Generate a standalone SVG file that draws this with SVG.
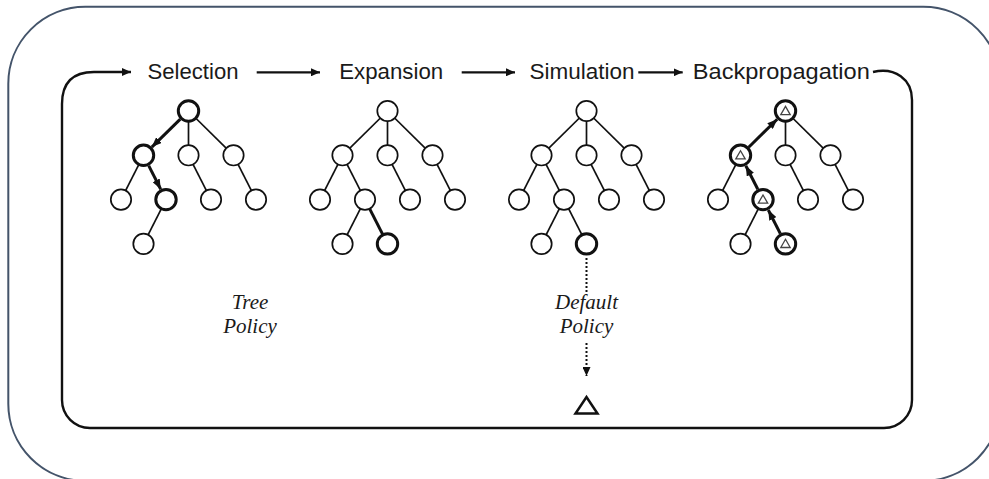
<svg xmlns="http://www.w3.org/2000/svg" width="989" height="479" viewBox="0 0 989 479">
  <style>
    .frame { fill: none; stroke: #44546A; stroke-width: 2; }
    .cycle { fill: none; stroke: #111; stroke-width: 2.4; }
    .flow { fill: none; stroke: #111; stroke-width: 2.2; }
    .edge { stroke: #111; stroke-width: 1.7; fill: none; }
    .edge-bold { stroke: #111; stroke-width: 3; fill: none; }
    .dots { stroke: #111; stroke-width: 2; stroke-dasharray: 2 2; fill: none; }
    .node { fill: #fff; stroke: #111; stroke-width: 1.7; }
    .node-bold { fill: #fff; stroke: #111; stroke-width: 3; }
    .tri { fill: none; stroke: #444; stroke-width: 1.3; stroke-linejoin: miter; }
    .leaf { fill: #fff; stroke: #111; stroke-width: 2.5; stroke-linejoin: miter; }
    .step { font-family: "Liberation Sans", Arial, sans-serif; font-size: 22px; fill: #1a1a1a; text-anchor: middle; }
    .policy { font-family: "Liberation Serif", "Times New Roman", serif; font-style: italic; font-size: 21px; fill: #1a1a1a; text-anchor: middle; }
  </style>
  <defs>
    <marker id="head" viewBox="0 0 9 8" refX="9" refY="4" markerWidth="9" markerHeight="8" markerUnits="userSpaceOnUse" orient="auto">
      <path d="M0,0 L9,4 L0,8 z" fill="#111"/>
    </marker>
    <marker id="head-tree" viewBox="0 0 10 8" refX="10" refY="4" markerWidth="10" markerHeight="8" markerUnits="userSpaceOnUse" orient="auto">
      <path d="M0,0 L10,4 L0,8 z" fill="#111"/>
    </marker>
    <marker id="head-drop" viewBox="0 0 8 9" refX="4" refY="9" markerWidth="8" markerHeight="9" markerUnits="userSpaceOnUse" orient="0">
      <path d="M0,0 L8,0 L4,9 z" fill="#111"/>
    </marker>
    <circle id="c" r="10.2"/>
    <path id="t" d="M-4.7,3.6 L4.7,3.6 L0,-4.6 z"/>
  </defs>

  <!-- outer rounded frame -->
  <rect class="frame" x="8.3" y="6.8" width="992" height="474" rx="77" ry="77"/>

  <!-- connectors -->
  <g id="connectors">
    <!-- main cycle: Backpropagation back round to Selection -->
    <path class="cycle" d="M873,72 C895,67 912,79 912,100 L912,400 A28,28 0 0 1 884,428 L90,428 A28,28 0 0 1 62,400 L62,104 C62,84 72,72 94,72 L131,72" marker-end="url(#head)"/>
    <path class="flow" d="M256.7,72.3 L320,72.3" marker-end="url(#head)"/>
    <path class="flow" d="M461.7,72.3 L515,72.3" marker-end="url(#head)"/>
    <path class="flow" d="M638.3,72.3 L682.7,72.3" marker-end="url(#head)"/>

    <!-- Selection tree edges -->
    <g id="sel-edges">
      <line class="edge" x1="188.5" y1="111" x2="188.5" y2="155.3"/>
      <line class="edge" x1="188.5" y1="111" x2="233.5" y2="155.3"/>
      <line class="edge" x1="143.5" y1="155.3" x2="121" y2="199.6"/>
      <line class="edge" x1="188.5" y1="155.3" x2="211" y2="199.6"/>
      <line class="edge" x1="233.5" y1="155.3" x2="256" y2="199.6"/>
      <line class="edge" x1="166" y1="199.6" x2="143.5" y2="243.9"/>
      <path class="edge-bold" d="M180.3,119.1 L151.8,147.1" marker-end="url(#head-tree)"/>
      <path class="edge-bold" d="M148.7,165.6 L160.7,189.2" marker-end="url(#head-tree)"/>
    </g>

    <!-- Expansion tree edges -->
    <g id="exp-edges">
      <line class="edge" x1="387.5" y1="111" x2="342.5" y2="155.3"/>
      <line class="edge" x1="387.5" y1="111" x2="387.5" y2="155.3"/>
      <line class="edge" x1="387.5" y1="111" x2="432.5" y2="155.3"/>
      <line class="edge" x1="342.5" y1="155.3" x2="320" y2="199.6"/>
      <line class="edge" x1="342.5" y1="155.3" x2="365" y2="199.6"/>
      <line class="edge" x1="387.5" y1="155.3" x2="410" y2="199.6"/>
      <line class="edge" x1="432.5" y1="155.3" x2="455" y2="199.6"/>
      <line class="edge" x1="365" y1="199.6" x2="342.5" y2="243.9"/>
      <line class="edge-bold" x1="365" y1="199.6" x2="387.5" y2="243.9"/>
    </g>

    <!-- Simulation tree edges -->
    <g id="sim-edges">
      <line class="edge" x1="586.5" y1="111" x2="541.5" y2="155.3"/>
      <line class="edge" x1="586.5" y1="111" x2="586.5" y2="155.3"/>
      <line class="edge" x1="586.5" y1="111" x2="631.5" y2="155.3"/>
      <line class="edge" x1="541.5" y1="155.3" x2="519" y2="199.6"/>
      <line class="edge" x1="541.5" y1="155.3" x2="564" y2="199.6"/>
      <line class="edge" x1="586.5" y1="155.3" x2="609" y2="199.6"/>
      <line class="edge" x1="631.5" y1="155.3" x2="654" y2="199.6"/>
      <line class="edge" x1="564" y1="199.6" x2="541.5" y2="243.9"/>
      <line class="edge" x1="564" y1="199.6" x2="586.5" y2="243.9"/>
      <!-- default policy rollout -->
      <line class="dots" x1="586.5" y1="258" x2="586.5" y2="293"/>
      <path class="dots" d="M586.5,343 L586.5,376" marker-end="url(#head-drop)"/>
    </g>

    <!-- Backpropagation tree edges -->
    <g id="back-edges">
      <line class="edge" x1="785.5" y1="111" x2="785.5" y2="155.3"/>
      <line class="edge" x1="785.5" y1="111" x2="830.5" y2="155.3"/>
      <line class="edge" x1="740.5" y1="155.3" x2="718" y2="199.6"/>
      <line class="edge" x1="785.5" y1="155.3" x2="808" y2="199.6"/>
      <line class="edge" x1="830.5" y1="155.3" x2="853" y2="199.6"/>
      <line class="edge" x1="763" y1="199.6" x2="740.5" y2="243.9"/>
      <path class="edge-bold" d="M780.3,233.6 L768.3,210" marker-end="url(#head-tree)"/>
      <path class="edge-bold" d="M757.8,189.3 L745.8,165.7" marker-end="url(#head-tree)"/>
      <path class="edge-bold" d="M748.7,147.2 L777.2,119.2" marker-end="url(#head-tree)"/>
    </g>
  </g>

  <!-- step labels -->
  <g id="label-selection"><text class="step" x="193" y="79" textLength="91" lengthAdjust="spacingAndGlyphs">Selection</text></g>
  <g id="label-expansion"><text class="step" x="391.2" y="79" textLength="104" lengthAdjust="spacingAndGlyphs">Expansion</text></g>
  <g id="label-simulation"><text class="step" x="582" y="79" textLength="105" lengthAdjust="spacingAndGlyphs">Simulation</text></g>
  <g id="label-backpropagation"><text class="step" x="781.3" y="79" textLength="177" lengthAdjust="spacingAndGlyphs">Backpropagation</text></g>

  <!-- Selection tree nodes -->
  <g id="tree-selection">
    <g id="sel-root"><use href="#c" class="node-bold" x="188.5" y="111"/></g>
    <g id="sel-a"><use href="#c" class="node-bold" x="143.5" y="155.3"/></g>
    <g id="sel-b"><use href="#c" class="node" x="188.5" y="155.3"/></g>
    <g id="sel-c"><use href="#c" class="node" x="233.5" y="155.3"/></g>
    <g id="sel-a1"><use href="#c" class="node" x="121" y="199.6"/></g>
    <g id="sel-a2"><use href="#c" class="node-bold" x="166" y="199.6"/></g>
    <g id="sel-b1"><use href="#c" class="node" x="211" y="199.6"/></g>
    <g id="sel-c1"><use href="#c" class="node" x="256" y="199.6"/></g>
    <g id="sel-a2a"><use href="#c" class="node" x="143.5" y="243.9"/></g>
  </g>

  <!-- Expansion tree nodes -->
  <g id="tree-expansion">
    <g id="exp-root"><use href="#c" class="node" x="387.5" y="111"/></g>
    <g id="exp-a"><use href="#c" class="node" x="342.5" y="155.3"/></g>
    <g id="exp-b"><use href="#c" class="node" x="387.5" y="155.3"/></g>
    <g id="exp-c"><use href="#c" class="node" x="432.5" y="155.3"/></g>
    <g id="exp-a1"><use href="#c" class="node" x="320" y="199.6"/></g>
    <g id="exp-a2"><use href="#c" class="node" x="365" y="199.6"/></g>
    <g id="exp-b1"><use href="#c" class="node" x="410" y="199.6"/></g>
    <g id="exp-c1"><use href="#c" class="node" x="455" y="199.6"/></g>
    <g id="exp-a2a"><use href="#c" class="node" x="342.5" y="243.9"/></g>
    <g id="exp-a2b"><use href="#c" class="node-bold" x="387.5" y="243.9"/></g>
  </g>

  <!-- Simulation tree nodes -->
  <g id="tree-simulation">
    <g id="sim-root"><use href="#c" class="node" x="586.5" y="111"/></g>
    <g id="sim-a"><use href="#c" class="node" x="541.5" y="155.3"/></g>
    <g id="sim-b"><use href="#c" class="node" x="586.5" y="155.3"/></g>
    <g id="sim-c"><use href="#c" class="node" x="631.5" y="155.3"/></g>
    <g id="sim-a1"><use href="#c" class="node" x="519" y="199.6"/></g>
    <g id="sim-a2"><use href="#c" class="node" x="564" y="199.6"/></g>
    <g id="sim-b1"><use href="#c" class="node" x="609" y="199.6"/></g>
    <g id="sim-c1"><use href="#c" class="node" x="654" y="199.6"/></g>
    <g id="sim-a2a"><use href="#c" class="node" x="541.5" y="243.9"/></g>
    <g id="sim-a2b"><use href="#c" class="node-bold" x="586.5" y="243.9"/></g>
    <g id="sim-terminal"><path class="leaf" d="M575.5,413.5 L597.5,413.5 L586.5,397 z"/></g>
  </g>

  <!-- Backpropagation tree nodes -->
  <g id="tree-backpropagation">
    <g id="back-root"><use href="#c" class="node-bold" x="785.5" y="111"/><use href="#t" class="tri" x="785.5" y="111"/></g>
    <g id="back-a"><use href="#c" class="node-bold" x="740.5" y="155.3"/><use href="#t" class="tri" x="740.5" y="155.3"/></g>
    <g id="back-b"><use href="#c" class="node" x="785.5" y="155.3"/></g>
    <g id="back-c"><use href="#c" class="node" x="830.5" y="155.3"/></g>
    <g id="back-a1"><use href="#c" class="node" x="718" y="199.6"/></g>
    <g id="back-a2"><use href="#c" class="node-bold" x="763" y="199.6"/><use href="#t" class="tri" x="763" y="199.6"/></g>
    <g id="back-b1"><use href="#c" class="node" x="808" y="199.6"/></g>
    <g id="back-c1"><use href="#c" class="node" x="853" y="199.6"/></g>
    <g id="back-a2a"><use href="#c" class="node" x="740.5" y="243.9"/></g>
    <g id="back-a2b"><use href="#c" class="node-bold" x="785.5" y="243.9"/><use href="#t" class="tri" x="785.5" y="243.9"/></g>
  </g>

  <!-- policy labels -->
  <g id="label-tree-policy">
    <text class="policy" x="250" y="309">Tree</text>
    <text class="policy" x="250" y="332.5">Policy</text>
  </g>
  <g id="label-default-policy">
    <text class="policy" x="586.5" y="309">Default</text>
    <text class="policy" x="586.5" y="332.5">Policy</text>
  </g>
</svg>
